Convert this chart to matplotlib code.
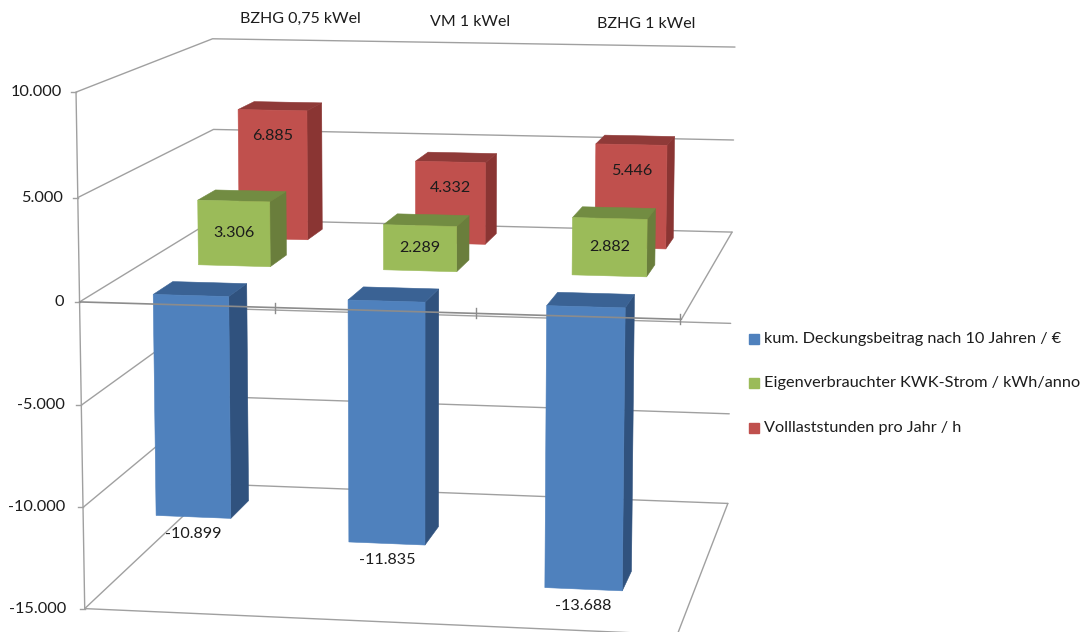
import numpy as np
import matplotlib
matplotlib.use("Agg")
import matplotlib.pyplot as plt
from matplotlib.patches import Polygon

plt.rcParams['font.family'] = ['Lato', 'DejaVu Sans']

# Data
categories = ['BZHG 0,75 kWel', 'VM 1 kWel', 'BZHG 1 kWel']
deckungsbeitrag = [-10899, -11835, -13688]
eigenverbrauch = [3306, 2289, 2882]
volllaststunden = [6885, 4332, 5446]
axis_ticks = [10000, 5000, 0, -5000, -10000, -15000]
axis_labels = ['10.000', '5.000', '0', '-5.000', '-10.000', '-15.000']
legend_labels = ['kum. Deckungsbeitrag nach 10 Jahren / €',
                 'Eigenverbrauchter KWK-Strom / kWh/anno',
                 'Volllaststunden pro Jahr / h']

# Camera calibration: chart-box corners (category, value, depth) and where they land on the page
box_points = [(0, 10000, 0), (0, 5000, 0), (0, 0, 0), (0, -5000, 0), (0, -10000, 0), (0, -15000, 0),
              (0, 10000, 1), (0, 5000, 1), (0, 0, 1), (0, -10000, 1), (0, -15000, 1),
              (3, 10000, 1), (3, 5000, 1), (3, 0, 1), (3, -5000, 1), (3, -10000, 1), (3, -15000, 1),
              (3, 0, 0), (3, -15000, 0)]
page_points = [(75, 92), (77, 198), (80, 302), (82, 405), (83, 507), (85, 608),
               (213, 39), (214, 129), (215, 219), (216, 397), (216, 485),
               (735, 47), (733, 140), (732, 232), (730, 323), (730, 414), (728, 503),
               (682, 320), (677, 635)]

rows, rhs = [], []
for (u, v, w), (px, py) in zip(box_points, page_points):
    p = [u, v / 1000, w, 1]
    rows.append(p + [0, 0, 0, 0] + [-px * c for c in p[:3]])
    rhs.append(px)
    rows.append([0, 0, 0, 0] + p + [-py * c for c in p[:3]])
    rhs.append(py)
cam = np.linalg.lstsq(np.array(rows, float), np.array(rhs, float), rcond=None)[0]
cam = np.append(cam, 1).reshape(3, 4)


# Project a point of the 3D chart box to the page
def proj(u, v, w):
    x, y, s = cam @ np.array([u, v / 1000, w, 1])
    return x / s, y / s


fig = plt.figure(figsize=(10.81, 6.32), dpi=100)
ax = fig.add_axes([0, 0, 1, 1])
ax.set_xlim(0, 1081)
ax.set_ylim(632, 0)
ax.axis('off')

grid_color = '#a0a0a0'
text_color = '#1c1c1c'


def line(points, z=1, color=grid_color, lw=1.0):
    xy = np.array([proj(*p) for p in points])
    ax.plot(xy[:, 0], xy[:, 1], color=color, lw=lw, zorder=z, solid_capstyle='round')


# Grid lines over the left wall and the back wall
for t in axis_ticks:
    line([(0, t, 0), (0, t, 1), (3, t, 1)])
    x, y = proj(0, t, 0)
    ax.plot([x - 5, x], [y, y], color=grid_color, lw=1.0, zorder=1)
    ax.text(62 + 0.4 * (x - 75), y, axis_labels[axis_ticks.index(t)], ha='right', va='center',
            fontsize=11.8, color=text_color)
line([(0, 10000, 0), (0, -15000, 0)])

# Floors at 0 and at the axis minimum
line([(3, 0, 1), (3, 0, 0)])
line([(0, -15000, 0), (3, -15000, 0), (3, -15000, 1)])

# Bars: one row per series, back to front
series = [(volllaststunden, 5 / 6, '#C0504D', '#8A3533', '#8F3A38'),
          (eigenverbrauch, 1 / 2, '#9BBB59', '#6A7E3C', '#728C42'),
          (deckungsbeitrag, 1 / 6, '#4F81BD', '#30527E', '#3A6294')]
bar_half = 0.195
depth_half = 0.07

for values, depth, front, side, top in series:
    for i, val in enumerate(values):
        u0, u1 = i + 0.5 - bar_half, i + 0.5 + bar_half
        w0, w1 = depth - depth_half, depth + depth_half
        lo, hi = min(val, 0), max(val, 0)
        faces = [(side, [(u1, lo, w0), (u1, lo, w1), (u1, hi, w1), (u1, hi, w0)]),
                 (top, [(u0, hi, w0), (u1, hi, w0), (u1, hi, w1), (u0, hi, w1)]),
                 (front, [(u0, lo, w0), (u1, lo, w0), (u1, hi, w0), (u0, hi, w0)])]
        for color, face in faces:
            ax.add_patch(Polygon([proj(*p) for p in face], closed=True, facecolor=color,
                                 edgecolor=color, lw=0.4, zorder=3))
        label = f'{abs(val):,}'.replace(',', '.')
        if val < 0:
            label = '-' + label
        mid = i + 0.5
        if val < 0:
            x, y = proj(mid, lo, w0)
            y += 17
        elif depth > 0.6:
            x, y = proj(mid, hi, w0)
            y += 26
        else:
            x, y = proj(mid, (lo + hi) / 2, w0)
        ax.text(x, y, label, ha='center', va='center', fontsize=11.6, color=text_color, zorder=5)

# Category axis at zero runs in front of the bars
line([(0, 0, 0), (3, 0, 0)], z=4, color='#8c8c8c', lw=1.2)
for i in range(1, 4):
    x, y = proj(i, 0, 0)
    ax.plot([x - 1, x - 1], [y - 5, y + 5], color='#8c8c8c', lw=1.0, zorder=4)

# Category names above the back wall
for name, x, y in zip(categories, [300, 470, 646], [19, 22, 24]):
    ax.text(x, y, name, ha='center', va='center', fontsize=11.5, color=text_color)

# Legend
for label, color, y in zip(legend_labels, ['#4F81BD', '#9BBB59', '#C0504D'], [339, 383, 428]):
    ax.plot([754], [y], marker='s', ms=6.5, color=color, mec=color, ls='none')
    ax.text(764, y, label, ha='left', va='center', fontsize=11.7, color=text_color)

fig.savefig('out.png', dpi=100)
